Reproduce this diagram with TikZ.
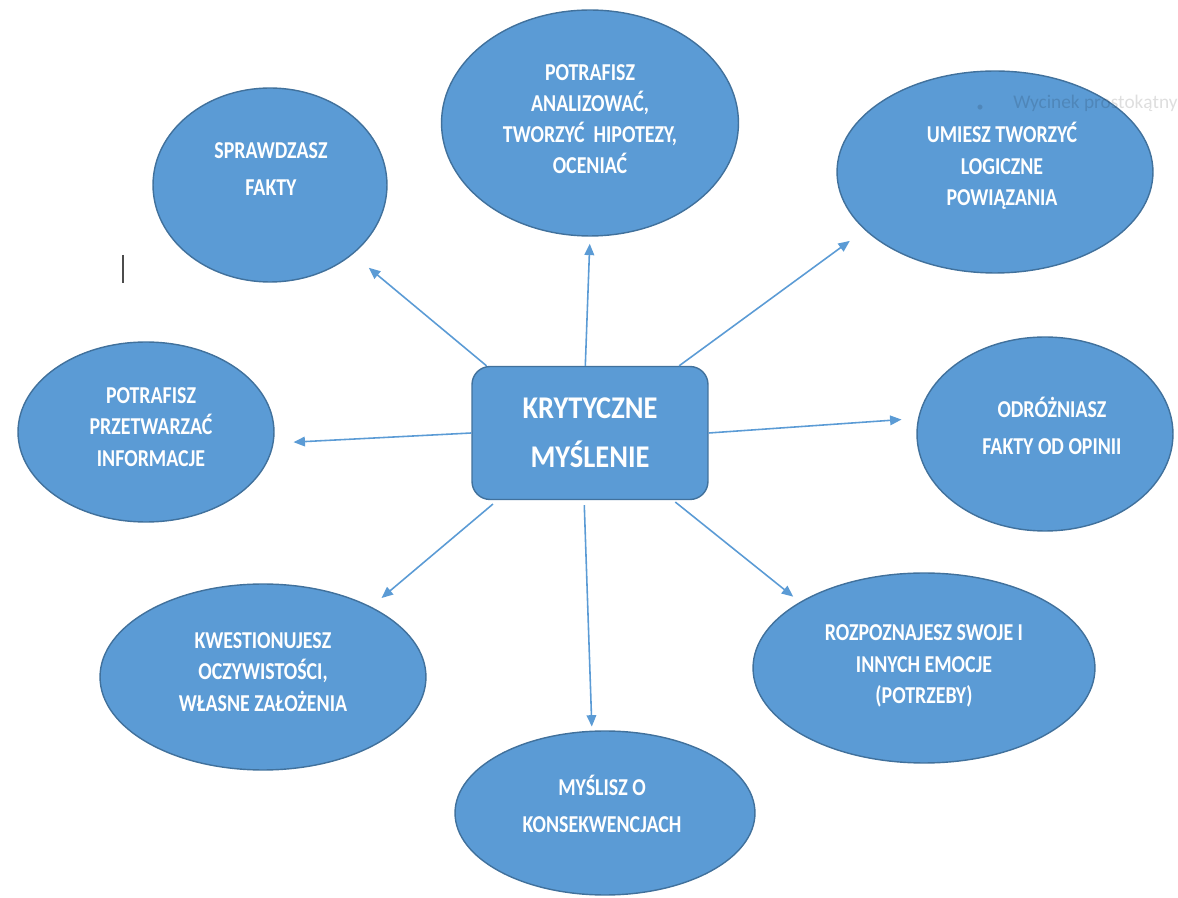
\documentclass[tikz,border=0pt]{standalone}
\usepackage{fontspec}
\setmainfont{Carlito}
\newfontfamily\lab{Carlito}[FakeStretch=0.82]
\newfontfamily\labc{Carlito}[FakeStretch=0.9]
\usetikzlibrary{arrows.meta,shapes.geometric}
\definecolor{fillb}{HTML}{5B9BD5}
\definecolor{edgeb}{HTML}{41719C}
\definecolor{arrb}{HTML}{5B9BD5}
\begin{document}
\begin{tikzpicture}[x=0.02cm,y=-0.02cm,
  ell/.style={ellipse, draw=edgeb, fill=fillb, line width=0.8pt, inner sep=0pt},
  lbl/.style={text=white, align=center, inner sep=0pt, font=\lab\bfseries\fontsize{13.8}{18}\selectfont},
  lbltwo/.style={text=white, align=center, inner sep=0pt, font=\lab\bfseries\fontsize{13.8}{21}\selectfont},
  hub/.style={rectangle, rounded corners=0.36cm, draw=edgeb, fill=fillb, line width=0.8pt,
    minimum width=4.72cm, minimum height=2.66cm, text=white, align=center,
    font=\labc\bfseries\fontsize{18}{28}\selectfont},
  arr/.style={draw=arrb, line width=0.9pt, -{Triangle[length=6.5pt,width=5.5pt]}},
]
\useasboundingbox (0,0) rectangle (1178,898);

\draw[line width=1.2pt, black!70] (123,255) -- (123,283);

% ellipses
\node[ell, minimum width=4.68cm, minimum height=3.88cm] (e1) at (270,185) {};
\node[ell, minimum width=5.94cm, minimum height=4.52cm] (e2) at (590,123) {};
\node[ell, minimum width=6.32cm, minimum height=4.04cm] (e3) at (995,172) {};
\node[ell, minimum width=5.12cm, minimum height=3.6cm]  (e4) at (146,432) {};
\node[ell, minimum width=5.12cm, minimum height=3.88cm] (e5) at (1045,434) {};
\node[ell, minimum width=6.52cm, minimum height=3.72cm] (e6) at (263,677) {};
\node[ell, minimum width=6.84cm, minimum height=3.8cm]  (e7) at (924,668) {};
\node[ell, minimum width=6.0cm,  minimum height=3.28cm] (e8) at (605,813) {};

% labels
\node[lbltwo] (t1) at (271,169) {SPRAWDZASZ\\FAKTY};
\node[lbl, font=\lab\bfseries\fontsize{13.8}{17.6}\selectfont] (t2) at (590,119) {POTRAFISZ\\ANALIZOWAĆ,\\TWORZYĆ~~HIPOTEZY,\\OCENIAĆ};
\node[lbl] (t3) at (1002,166) {UMIESZ TWORZYĆ\\LOGICZNE\\POWIĄZANIA};
\node[lbl] (t4) at (151,427) {POTRAFISZ\\PRZETWARZAĆ\\INFORMACJE};
\node[lbltwo, font=\lab\bfseries\fontsize{13.8}{21.5}\selectfont] (t5) at (1052,426) {ODRÓŻNIASZ\\FAKTY OD OPINII};
\node[lbl] (t6) at (263,672) {KWESTIONUJESZ\\OCZYWISTOŚCI,\\WŁASNE ZAŁOŻENIA};
\node[lbl] (t7) at (924,666) {ROZPOZNAJESZ SWOJE I\\INNYCH EMOCJE\\(POTRZEBY)};
\node[lbltwo] (t8) at (602,804) {MYŚLISZ O\\KONSEKWENCJACH};

% hub
\node[hub] (c) at (590,433) {KRYTYCZNE\\MYŚLENIE};

% connectors
\draw[arr, shorten >=11.9pt] (c.147.8) -- (e1.-40);
\draw[arr, shorten >=4pt] (c.94.3) -- (e2.-90);
\draw[arr, shorten >=10.5pt] (c.37.5) -- (e3.204.7);
\draw[arr, shorten >=11.3pt] (c.180) -- (e4.-5.4);
\draw[arr, shorten >=9.4pt] (c.0) -- (e5.173.2);
\draw[arr, shorten <=3.4pt, shorten >=7.7pt] (c.216) -- (e6.33.4);
\draw[arr, shorten <=1.7pt, shorten >=4.8pt] (c.-39.3) -- (e7.152.7);
\draw[arr, shorten <=2.8pt, shorten >=2.3pt] (c.265.7) -- (e8.99);

% faint overlay artefacts (screen tooltip)
\node[anchor=west, inner sep=0pt, text=black, text opacity=0.13, font=\fontsize{11}{13}\selectfont] (wm) at (1013,103) {Wycinek prostokątny};
\node[inner sep=0pt, text=black, text opacity=0.13, font=\fontsize{8}{9}\selectfont] (bul) at (980,108) {•};
\end{tikzpicture}
\end{document}
